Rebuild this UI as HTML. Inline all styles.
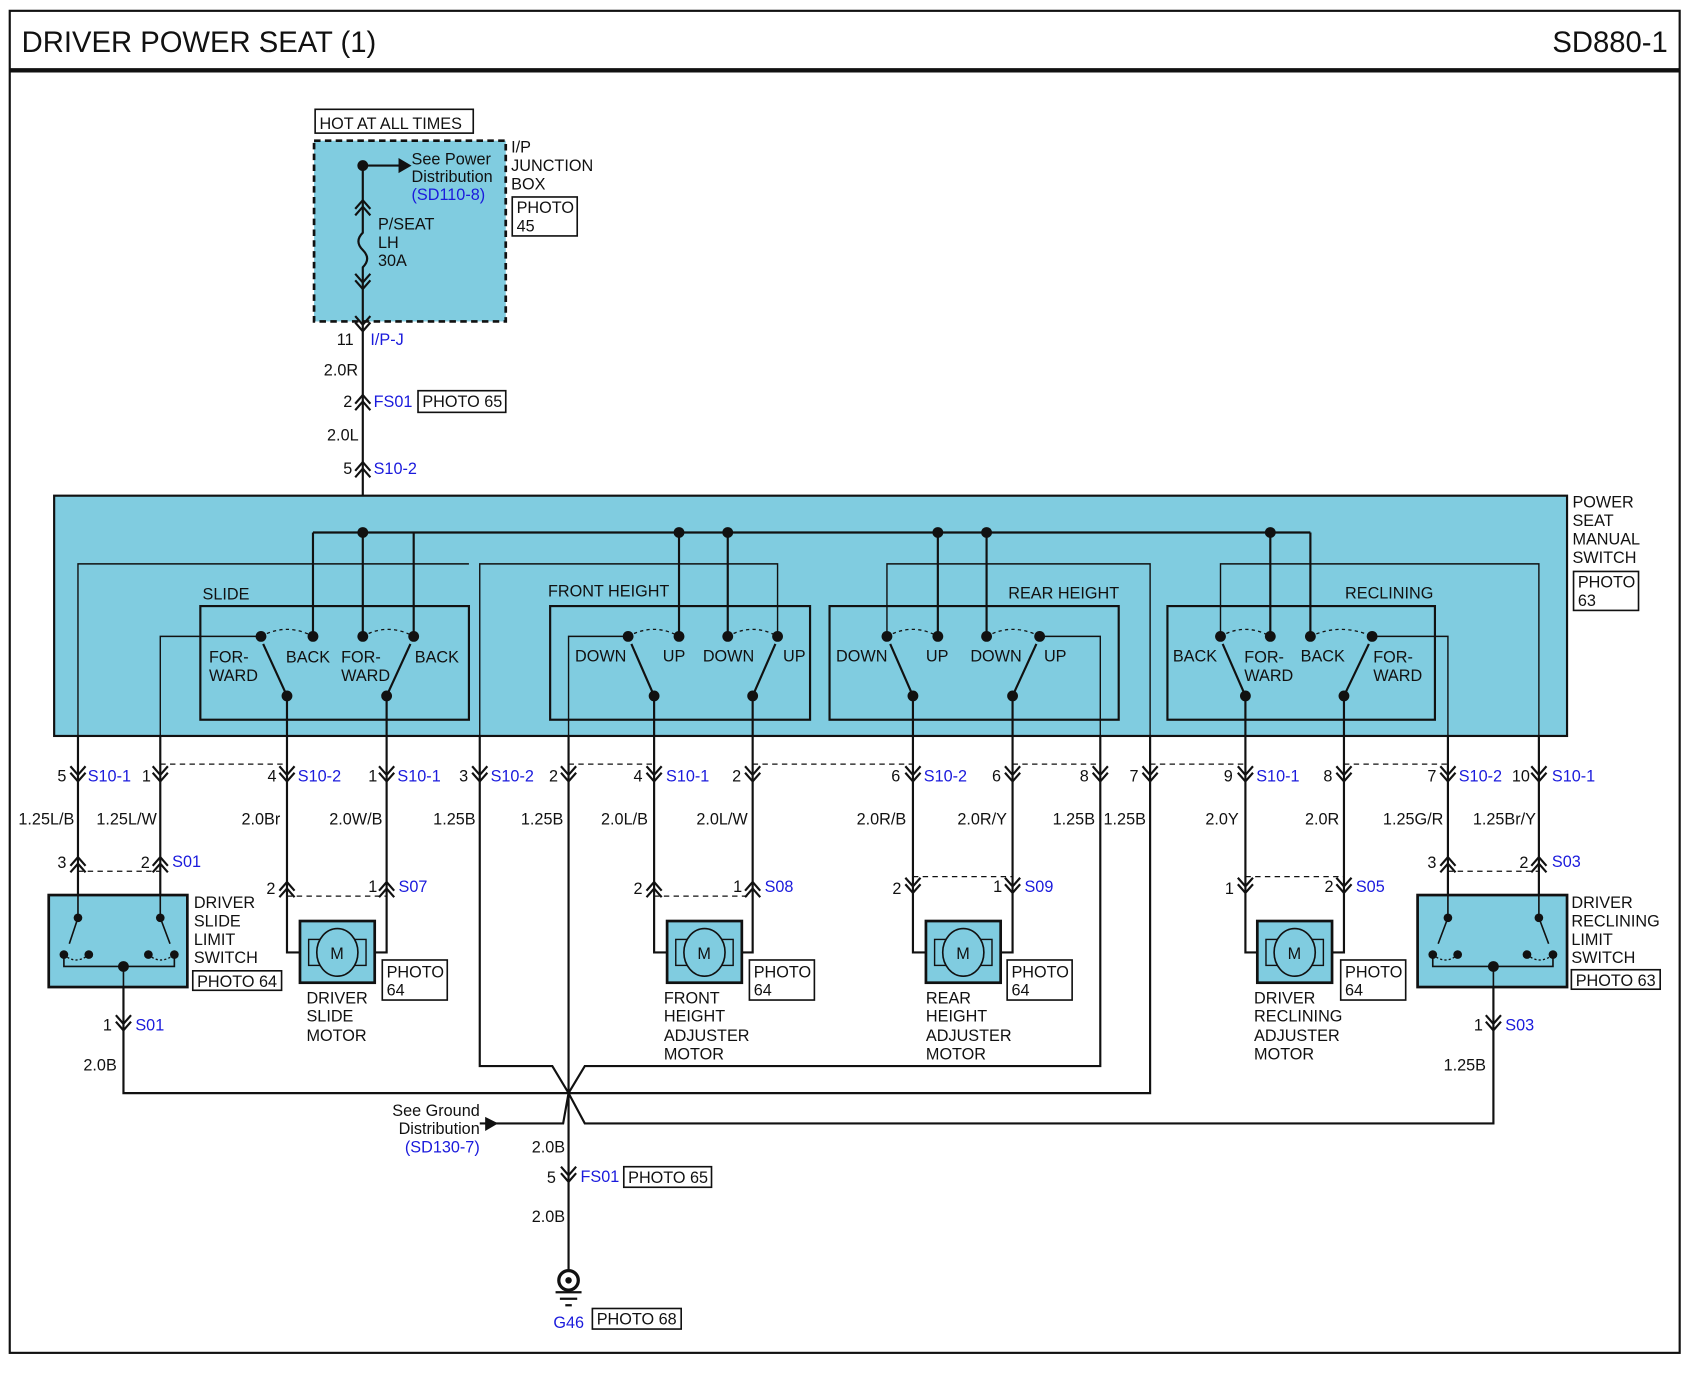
<!DOCTYPE html>
<html><head><meta charset="utf-8"><style>
html,body{margin:0;padding:0;background:#fff}
svg{display:block}
text{font-family:"Liberation Sans",sans-serif;font-size:15px;fill:#111}
.b{fill:#1a1adc}
.t{font-size:27px}
</style></head><body>
<svg width="1697" height="1381" viewBox="0 0 1567 1276" preserveAspectRatio="none" xmlns="http://www.w3.org/2000/svg">
<defs>
<g id="cd" fill="none" stroke="#111" stroke-width="2"><path d="M-7,-9 L0,-1 L7,-9 M-7,-3 L0,5 L7,-3"/></g>
<g id="cu" fill="none" stroke="#111" stroke-width="2"><path d="M-7,9 L0,1 L7,9 M-7,3 L0,-5 L7,3"/></g>
</defs>
<rect x="0" y="0" width="1567" height="1276" fill="#fff"/>
<rect x="9" y="10" width="1542" height="1240" fill="none" stroke="#111" stroke-width="2"/>
<line x1="9" y1="65" x2="1551" y2="65" stroke="#111" stroke-width="4"/>
<text x="20" y="48" class="t">DRIVER POWER SEAT (1)</text>
<text x="1540" y="48" class="t" text-anchor="end">SD880-1</text>

<rect x="291" y="101" width="146" height="22" fill="#fff" stroke="#111" stroke-width="1.5"/>
<text x="295" y="119">HOT AT ALL TIMES</text>
<rect x="290" y="130" width="177" height="167" fill="#80cce0" stroke="#111" stroke-width="2.5" stroke-dasharray="6,4"/>
<text x="472" y="141">I/P</text><text x="472" y="158">JUNCTION</text><text x="472" y="175">BOX</text>
<rect x="473" y="182" width="60" height="36" fill="#fff" stroke="#111" stroke-width="1.5"/>
<text x="477" y="197">PHOTO</text><text x="477" y="214">45</text>
<line x1="335" y1="153" x2="370" y2="153" stroke="#111" stroke-width="2"/>
<path d="M368,146 L380,153 L368,160Z" fill="#111"/>
<circle cx="335" cy="153" r="5" fill="#111"/>
<text x="380" y="152">See Power</text><text x="380" y="168">Distribution</text><text x="380" y="185" class="b">(SD110-8)</text>
<path d="M335,153 V215 q-8,8 0,16 q8,8 0,16 V297" fill="none" stroke="#111" stroke-width="2"/>
<use href="#cu" x="335" y="190"/>
<use href="#cd" x="335" y="262"/>
<text x="349" y="212">P/SEAT</text><text x="349" y="229">LH</text><text x="349" y="246">30A</text>
<use href="#cd" x="335" y="301"/>
<line x1="335" y1="297" x2="335" y2="458" stroke="#111" stroke-width="2"/>
<text x="311" y="319">11</text><text x="342" y="319" class="b">I/P-J</text>
<text x="299" y="347">2.0R</text>
<use href="#cu" x="335" y="370"/>
<text x="317" y="376">2</text><text x="345" y="376" class="b">FS01</text>
<rect x="386" y="361" width="81" height="20" fill="#fff" stroke="#111" stroke-width="1.5"/>
<text x="390" y="376">PHOTO 65</text>
<text x="302" y="407">2.0L</text>
<use href="#cu" x="335" y="432"/>
<text x="317" y="438">5</text><text x="345" y="438" class="b">S10-2</text>

<rect x="50" y="458" width="1397" height="222" fill="#80cce0" stroke="#111" stroke-width="2"/>
<text x="1452" y="469">POWER</text><text x="1452" y="486">SEAT</text><text x="1452" y="503">MANUAL</text><text x="1452" y="520">SWITCH</text>
<rect x="1453" y="528" width="60" height="36" fill="#fff" stroke="#111" stroke-width="1.5"/>
<text x="1457" y="543">PHOTO</text><text x="1457" y="560">63</text>

<g fill="none" stroke="#111" stroke-width="1.3">
<path d="M72,680 V521 H433"/>
<path d="M443,680 V521 H718 V588"/>
<path d="M819,588 V521 H1062 V680"/>
<path d="M1127,588 V521 H1421 V680"/>
<path d="M148,680 V588 H241"/>
<path d="M525,680 V588 H580"/>
<path d="M1016,680 V588 H960"/>
<path d="M1337,680 V588 H1267"/>
</g>
<g fill="none" stroke="#111" stroke-width="2">
<rect x="185" y="560" width="248" height="105"/>
<rect x="508" y="560" width="240" height="105"/>
<rect x="766" y="560" width="267" height="105"/>
<rect x="1078" y="560" width="247" height="105"/>
<path d="M289,492 H1210"/>
<path d="M289,492 V588 M335,492 V588 M382,492 V588 M627,492 V588 M672,492 V588 M866,492 V588 M911,492 V588 M1173,492 V588 M1210,492 V588"/>
<path d="M265,643 L243,595 M357,643 L379,595 M604,643 L583,595 M695,643 L716,595 M843,643 L822,595 M935,643 L957,595 M1150,643 L1129,595 M1241,643 L1264,595"/>
<path d="M265,643 V717 M357,643 V717 M604,643 V717 M695,643 V717 M843,643 V717 M935,643 V717 M1150,643 V717 M1241,643 V717"/>
</g>
<g fill="none" stroke="#111" stroke-width="1.2" stroke-dasharray="3,3">
<path d="M241,588 Q265,575 289,588 M335,588 Q358,575 382,588 M580,588 Q604,575 627,588 M672,588 Q695,575 718,588 M819,588 Q843,575 866,588 M911,588 Q935,575 960,588 M1127,588 Q1150,575 1173,588 M1210,588 Q1238,575 1267,588"/>
</g>
<g fill="#111">
<circle cx="335" cy="492" r="5"/><circle cx="627" cy="492" r="5"/><circle cx="672" cy="492" r="5"/><circle cx="866" cy="492" r="5"/><circle cx="911" cy="492" r="5"/><circle cx="1173" cy="492" r="5"/>
<circle cx="241" cy="588" r="5"/><circle cx="289" cy="588" r="5"/><circle cx="335" cy="588" r="5"/><circle cx="382" cy="588" r="5"/>
<circle cx="580" cy="588" r="5"/><circle cx="627" cy="588" r="5"/><circle cx="672" cy="588" r="5"/><circle cx="718" cy="588" r="5"/>
<circle cx="819" cy="588" r="5"/><circle cx="866" cy="588" r="5"/><circle cx="911" cy="588" r="5"/><circle cx="960" cy="588" r="5"/>
<circle cx="1127" cy="588" r="5"/><circle cx="1173" cy="588" r="5"/><circle cx="1210" cy="588" r="5"/><circle cx="1267" cy="588" r="5"/>
<circle cx="265" cy="643" r="5"/><circle cx="357" cy="643" r="5"/><circle cx="604" cy="643" r="5"/><circle cx="695" cy="643" r="5"/><circle cx="843" cy="643" r="5"/><circle cx="935" cy="643" r="5"/><circle cx="1150" cy="643" r="5"/><circle cx="1241" cy="643" r="5"/>
</g>
<text x="187" y="554">SLIDE</text><text x="506" y="551">FRONT HEIGHT</text><text x="931" y="553">REAR HEIGHT</text><text x="1242" y="553">RECLINING</text>
<text x="193" y="612">FOR-</text><text x="193" y="629">WARD</text><text x="264" y="612">BACK</text><text x="315" y="612">FOR-</text><text x="315" y="629">WARD</text><text x="383" y="612">BACK</text>
<text x="531" y="611">DOWN</text><text x="612" y="611">UP</text><text x="649" y="611">DOWN</text><text x="723" y="611">UP</text>
<text x="772" y="611">DOWN</text><text x="855" y="611">UP</text><text x="896" y="611">DOWN</text><text x="964" y="611">UP</text>
<text x="1083" y="611">BACK</text><text x="1149" y="612">FOR-</text><text x="1149" y="629">WARD</text><text x="1201" y="611">BACK</text><text x="1268" y="612">FOR-</text><text x="1268" y="629">WARD</text>

<g fill="none" stroke="#111" stroke-width="2">
<path d="M72,680 V827 M148,680 V827 M265,717 V880 H287 M357,717 V880 H337"/>
<path d="M604,717 V880 H626 M695,717 V880 H676 M843,717 V880 H865 M935,717 V880 H914 M1150,717 V880 H1172 M1241,717 V880 H1221"/>
<path d="M1337,680 V827 M1421,680 V827"/>
<path d="M443,680 V985 H510 L525,1010 M1016,680 V985 H540 L525,1010 M1062,680 V1010 H525 M114,893 V1010 H525 M1379,893 V1038 H540 L525,1010 M525,680 V1180"/>
<path d="M443,1038 H520 L525,1010"/>
</g>
<path d="M448,1032 L460,1038 L448,1045Z" fill="#111"/>
<g fill="none" stroke="#111" stroke-width="1.2" stroke-dasharray="5,4">
<path d="M148,706 H265 M525,706 H604 M695,706 H843 M935,706 H1016 M1062,706 H1150 M1241,706 H1337"/>
<path d="M72,805 H148 M265,828 H357 M604,828 H695 M843,810 H935 M1150,810 H1241 M1337,805 H1421"/>
</g>
<g>
<use href="#cd" x="72" y="717"/><use href="#cd" x="148" y="717"/><use href="#cd" x="265" y="717"/><use href="#cd" x="357" y="717"/><use href="#cd" x="443" y="717"/><use href="#cd" x="525" y="717"/><use href="#cd" x="604" y="717"/><use href="#cd" x="695" y="717"/><use href="#cd" x="843" y="717"/><use href="#cd" x="935" y="717"/><use href="#cd" x="1016" y="717"/><use href="#cd" x="1062" y="717"/><use href="#cd" x="1150" y="717"/><use href="#cd" x="1241" y="717"/><use href="#cd" x="1337" y="717"/><use href="#cd" x="1421" y="717"/>
<use href="#cu" x="72" y="797"/><use href="#cu" x="148" y="797"/><use href="#cu" x="265" y="820"/><use href="#cu" x="357" y="820"/><use href="#cu" x="604" y="820"/><use href="#cu" x="695" y="820"/>
<use href="#cd" x="843" y="820"/><use href="#cd" x="935" y="820"/><use href="#cd" x="1150" y="820"/><use href="#cd" x="1241" y="820"/>
<use href="#cu" x="1337" y="797"/><use href="#cu" x="1421" y="797"/>
<use href="#cd" x="114" y="947"/><use href="#cd" x="1379" y="947"/><use href="#cd" x="525" y="1087"/>
</g>
<g>
<text x="53" y="722">5</text><text x="81" y="722" class="b">S10-1</text>
<text x="131" y="722">1</text>
<text x="247" y="722">4</text><text x="275" y="722" class="b">S10-2</text>
<text x="340" y="722">1</text><text x="367" y="722" class="b">S10-1</text>
<text x="424" y="722">3</text><text x="453" y="722" class="b">S10-2</text>
<text x="507" y="722">2</text>
<text x="585" y="722">4</text><text x="615" y="722" class="b">S10-1</text>
<text x="676" y="722">2</text>
<text x="823" y="722">6</text><text x="853" y="722" class="b">S10-2</text>
<text x="916" y="722">6</text>
<text x="997" y="722">8</text><text x="1043" y="722">7</text>
<text x="1130" y="722">9</text><text x="1160" y="722" class="b">S10-1</text>
<text x="1222" y="722">8</text>
<text x="1318" y="722">7</text><text x="1347" y="722" class="b">S10-2</text>
<text x="1396" y="722">10</text><text x="1433" y="722" class="b">S10-1</text>
<text x="17" y="762">1.25L/B</text><text x="89" y="762">1.25L/W</text><text x="223" y="762">2.0Br</text><text x="304" y="762">2.0W/B</text><text x="400" y="762">1.25B</text><text x="481" y="762">1.25B</text><text x="555" y="762">2.0L/B</text><text x="643" y="762">2.0L/W</text><text x="791" y="762">2.0R/B</text><text x="884" y="762">2.0R/Y</text><text x="972" y="762">1.25B</text><text x="1019" y="762">1.25B</text><text x="1113" y="762">2.0Y</text><text x="1205" y="762">2.0R</text><text x="1277" y="762">1.25G/R</text><text x="1360" y="762">1.25Br/Y</text>
<text x="53" y="802">3</text><text x="130" y="802">2</text><text x="159" y="801" class="b">S01</text>
<text x="246" y="826">2</text><text x="340" y="824">1</text><text x="368" y="824" class="b">S07</text>
<text x="585" y="826">2</text><text x="677" y="824">1</text><text x="706" y="824" class="b">S08</text>
<text x="824" y="826">2</text><text x="917" y="824">1</text><text x="946" y="824" class="b">S09</text>
<text x="1131" y="826">1</text><text x="1223" y="824">2</text><text x="1252" y="824" class="b">S05</text>
<text x="1318" y="802">3</text><text x="1403" y="802">2</text><text x="1433" y="801" class="b">S03</text>
</g>

<g stroke="#111">
<rect x="45" y="827" width="128" height="85" fill="#80cce0" stroke-width="2.5"/>
<rect x="1309" y="827" width="138" height="85" fill="#80cce0" stroke-width="2.5"/>
</g>
<g fill="none" stroke="#111" stroke-width="1.5">
<path d="M72,827 V848 L64,872 M148,827 V848 L157,872 M59,882 V893 H161 V882 M114,893 V947"/>
<path d="M1337,827 V848 L1328,872 M1421,827 V848 L1430,872 M1323,882 V893 H1434 V882 M1379,893 V947"/>
</g>
<g fill="none" stroke="#111" stroke-width="1.2" stroke-dasharray="2,2"><path d="M59,882 Q70,892 82,882 M137,882 Q148,892 161,882 M1323,882 Q1335,892 1346,882 M1410,882 Q1422,892 1434,882"/></g>
<g fill="#111">
<circle cx="72" cy="848" r="4"/><circle cx="148" cy="848" r="4"/><circle cx="59" cy="882" r="4"/><circle cx="82" cy="882" r="4"/><circle cx="137" cy="882" r="4"/><circle cx="161" cy="882" r="4"/><circle cx="114" cy="893" r="5"/>
<circle cx="1337" cy="848" r="4"/><circle cx="1421" cy="848" r="4"/><circle cx="1323" cy="882" r="4"/><circle cx="1346" cy="882" r="4"/><circle cx="1410" cy="882" r="4"/><circle cx="1434" cy="882" r="4"/><circle cx="1379" cy="893" r="5"/>
</g>
<text x="179" y="839">DRIVER</text><text x="179" y="856">SLIDE</text><text x="179" y="873">LIMIT</text><text x="179" y="890">SWITCH</text>
<rect x="178" y="897" width="82" height="18" fill="#fff" stroke="#111" stroke-width="1.5"/><text x="182" y="912">PHOTO 64</text>
<text x="1451" y="839">DRIVER</text><text x="1451" y="856">RECLINING</text><text x="1451" y="873">LIMIT</text><text x="1451" y="890">SWITCH</text>
<rect x="1451" y="896" width="82" height="18" fill="#fff" stroke="#111" stroke-width="1.5"/><text x="1455" y="911">PHOTO 63</text>
<text x="95" y="952">1</text><text x="125" y="952" class="b">S01</text>
<text x="1361" y="952">1</text><text x="1390" y="952" class="b">S03</text>
<text x="77" y="989">2.0B</text><text x="1333" y="989">1.25B</text>

<g>
<g transform="translate(277,851)"><rect width="69" height="57" fill="#80cce0" stroke="#111" stroke-width="2.5"/><rect x="8" y="17" width="53" height="24" fill="none" stroke="#111" stroke-width="1.3"/><ellipse cx="34.5" cy="29" rx="19" ry="22" fill="#80cce0" stroke="#111" stroke-width="1.5"/><text x="28" y="35">M</text></g>
<g transform="translate(616,851)"><rect width="69" height="57" fill="#80cce0" stroke="#111" stroke-width="2.5"/><rect x="8" y="17" width="53" height="24" fill="none" stroke="#111" stroke-width="1.3"/><ellipse cx="34.5" cy="29" rx="19" ry="22" fill="#80cce0" stroke="#111" stroke-width="1.5"/><text x="28" y="35">M</text></g>
<g transform="translate(855,851)"><rect width="69" height="57" fill="#80cce0" stroke="#111" stroke-width="2.5"/><rect x="8" y="17" width="53" height="24" fill="none" stroke="#111" stroke-width="1.3"/><ellipse cx="34.5" cy="29" rx="19" ry="22" fill="#80cce0" stroke="#111" stroke-width="1.5"/><text x="28" y="35">M</text></g>
<g transform="translate(1161,851)"><rect width="69" height="57" fill="#80cce0" stroke="#111" stroke-width="2.5"/><rect x="8" y="17" width="53" height="24" fill="none" stroke="#111" stroke-width="1.3"/><ellipse cx="34.5" cy="29" rx="19" ry="22" fill="#80cce0" stroke="#111" stroke-width="1.5"/><text x="28" y="35">M</text></g>
</g>
<g fill="#fff" stroke="#111" stroke-width="1.5">
<rect x="353" y="887" width="60" height="37"/><rect x="692" y="887" width="60" height="37"/><rect x="930" y="887" width="60" height="37"/><rect x="1238" y="887" width="60" height="37"/>
</g>
<text x="357" y="903">PHOTO</text><text x="357" y="920">64</text>
<text x="696" y="903">PHOTO</text><text x="696" y="920">64</text>
<text x="934" y="903">PHOTO</text><text x="934" y="920">64</text>
<text x="1242" y="903">PHOTO</text><text x="1242" y="920">64</text>
<text x="283" y="927">DRIVER</text><text x="283" y="944">SLIDE</text><text x="283" y="962">MOTOR</text>
<text x="613" y="927">FRONT</text><text x="613" y="944">HEIGHT</text><text x="613" y="962">ADJUSTER</text><text x="613" y="979">MOTOR</text>
<text x="855" y="927">REAR</text><text x="855" y="944">HEIGHT</text><text x="855" y="962">ADJUSTER</text><text x="855" y="979">MOTOR</text>
<text x="1158" y="927">DRIVER</text><text x="1158" y="944">RECLINING</text><text x="1158" y="962">ADJUSTER</text><text x="1158" y="979">MOTOR</text>

<text x="443" y="1031" text-anchor="end">See Ground</text>
<text x="443" y="1048" text-anchor="end">Distribution</text>
<text x="443" y="1065" text-anchor="end" class="b">(SD130-7)</text>
<text x="491" y="1065">2.0B</text>
<text x="505" y="1093">5</text><text x="536" y="1092" class="b">FS01</text>
<rect x="576" y="1078" width="81" height="19" fill="#fff" stroke="#111" stroke-width="1.5"/><text x="580" y="1093">PHOTO 65</text>
<text x="491" y="1129">2.0B</text>
<circle cx="525" cy="1183" r="9" fill="#fff" stroke="#111" stroke-width="3"/>
<circle cx="525" cy="1183" r="3" fill="#111"/>
<path d="M513,1194 H537 M517,1200 H533 M522,1206 H528" stroke="#111" stroke-width="2"/>
<text x="511" y="1227" class="b">G46</text>
<rect x="547" y="1209" width="82" height="19" fill="#fff" stroke="#111" stroke-width="1.5"/><text x="551" y="1224">PHOTO 68</text>
</svg>
</body></html>
